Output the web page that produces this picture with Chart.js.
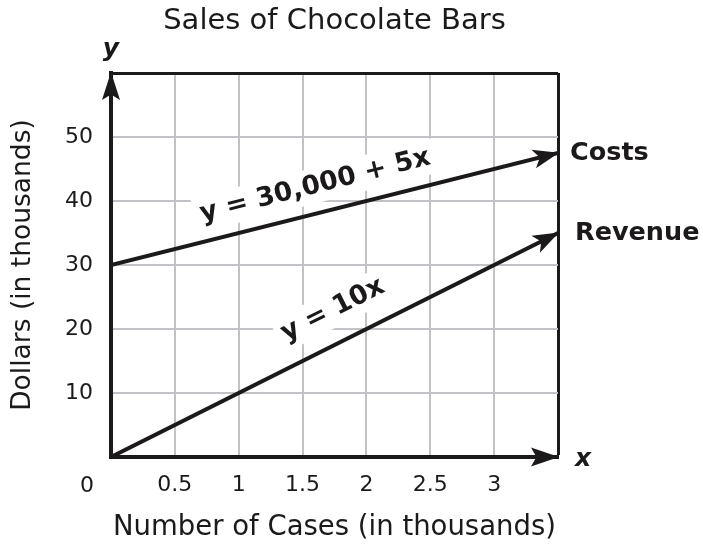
<!DOCTYPE html>
<html>
<head>
<meta charset="utf-8">
<script src="https://cdn.jsdelivr.net/npm/chart.js@4"></script>
<style>
  html, body { margin: 0; padding: 0; background: #fff; }
  canvas { display: block; }
</style>
</head>
<body>
<canvas id="myChart" width="703" height="546"></canvas>
<script>
// data (thousands)
const caseValues = [0, 3.5];
const costsValues = [30, 47.5];   // y = 30,000 + 5x
const revenueValues = [0, 35];    // y = 10x
const caseTicks = [0, 0.5, 1, 1.5, 2, 2.5, 3, 3.5];
const caseTickLabels = ['', '0.5', '1', '1.5', '2', '2.5', '3', ''];
const dollarTicks = [0, 10, 20, 30, 40, 50, 60];
const dollarTickLabels = ['', '10', '20', '30', '40', '50', ''];
const originLabel = '0';

const ink = '#1c191a';
const gridGray = '#c3c3c7';
const fam = 'DejaVu Sans';

function points(ys) {
    return caseValues.map(function (x, i) { return { x: x, y: ys[i] }; });
}

function arrowHead(ctx, x, y, angle, len, half, notch) {
    ctx.save();
    ctx.translate(x, y);
    ctx.rotate(angle);
    ctx.beginPath();
    ctx.moveTo(1, 0);
    ctx.lineTo(-len, -half);
    ctx.lineTo(-len * notch, 0);
    ctx.lineTo(-len, half);
    ctx.closePath();
    ctx.fillStyle = ink;
    ctx.fill();
    ctx.restore();
}

// rotated label sitting above a line, on a white box
function slopeLabel(chart, text, ys, atX, offset) {
    const ctx = chart.ctx;
    const sx = chart.scales.x, sy = chart.scales.y;
    const x0 = sx.getPixelForValue(caseValues[0]), y0 = sy.getPixelForValue(ys[0]);
    const x1 = sx.getPixelForValue(caseValues[1]), y1 = sy.getPixelForValue(ys[1]);
    const ang = Math.atan2(y1 - y0, x1 - x0);
    const t = (atX - caseValues[0]) / (caseValues[1] - caseValues[0]);
    const px = x0 + (x1 - x0) * t, py = y0 + (y1 - y0) * t;
    const cx = px + Math.sin(ang) * offset, cy = py - Math.cos(ang) * offset;
    ctx.save();
    ctx.translate(cx, cy);
    ctx.rotate(ang);
    ctx.font = 'bold 26.5px "' + fam + '"';
    const w = ctx.measureText(text).width;
    ctx.fillStyle = '#fff';
    ctx.fillRect(-w / 2 - 6, -18, w + 12, 35);
    ctx.fillStyle = ink;
    ctx.textAlign = 'center';
    ctx.textBaseline = 'middle';
    ctx.fillText(text, 0, 0);
    ctx.restore();
}

const decorations = {
    id: 'decorations',
    beforeDatasetsDraw: function (chart) {
        slopeLabel(chart, 'y = 30,000 + 5x', costsValues, 1.65, 27);
        slopeLabel(chart, 'y = 10x', revenueValues, 1.85, 32);
    },
    afterDatasetsDraw: function (chart) {
        const ctx = chart.ctx;
        const a = chart.chartArea;
        // arrows on the two lines
        chart.data.datasets.forEach(function (ds, i) {
            const pts = chart.getDatasetMeta(i).data;
            const p0 = pts[pts.length - 2], p1 = pts[pts.length - 1];
            arrowHead(ctx, p1.x, p1.y, Math.atan2(p1.y - p0.y, p1.x - p0.x), 25, 9.5, 0.75);
        });
        // axis arrows
        arrowHead(ctx, a.left, a.top, -Math.PI / 2, 27, 9, 0.8);
        arrowHead(ctx, a.right, a.bottom, 0, 27, 9.5, 0.8);
    },
    afterDraw: function (chart) {
        const ctx = chart.ctx;
        const a = chart.chartArea;
        const sy = chart.scales.y;
        ctx.save();
        ctx.fillStyle = ink;
        ctx.textBaseline = 'middle';
        ctx.textAlign = 'left';
        ctx.font = 'bold 25.5px "' + fam + '"';
        ctx.fillText('Costs', a.right + 12, sy.getPixelForValue(costsValues[1]));
        ctx.fillText('Revenue', a.right + 17, sy.getPixelForValue(revenueValues[1]));
        ctx.font = 'italic bold 25px "' + fam + '"';
        ctx.textAlign = 'center';
        ctx.fillText('y', a.left, a.top - 24);
        ctx.fillText('x', a.right + 25, a.bottom + 2);
        ctx.font = '22px "' + fam + '"';
        ctx.fillText(originLabel, a.left - 24, a.bottom + 29);
        ctx.restore();
    }
};

function gridColor(last) {
    return function (c) {
        if (c.tick.value === 0) return 'rgba(0,0,0,0)';
        return c.tick.value === last ? ink : gridGray;
    };
}
function gridWidth(last) {
    return function (c) { return c.tick.value === last ? 3 : 2; };
}

var ctx = document.getElementById('myChart').getContext('2d');
var chart = new Chart(ctx, {
    type: 'line',
    data: {
        datasets: [{
            label: 'Costs',
            data: points(costsValues),
            borderColor: ink,
            borderWidth: 4,
            pointRadius: 0,
            fill: false
        },
        {
            label: 'Revenue',
            data: points(revenueValues),
            borderColor: ink,
            borderWidth: 4,
            pointRadius: 0,
            fill: false
        }]
    },
    options: {
        responsive: false,
        animation: false,
        layout: { padding: { left: 0, right: 145, top: 0, bottom: 0 } },
        plugins: {
            legend: { display: false },
            tooltip: { enabled: false },
            title: {
                display: true,
                fullSize: false,
                text: 'Sales of Chocolate Bars',
                color: ink,
                font: { family: fam, size: 29, weight: 'normal' },
                padding: { top: 4, bottom: 34.2 }
            }
        },
        scales: {
            x: {
                type: 'linear',
                min: 0,
                max: 3.5,
                afterBuildTicks: function (s) { s.ticks = caseTicks.map(function (v) { return { value: v }; }); },
                afterFit: function (s) { s.height = 89; },
                ticks: {
                    callback: function (v, i) { return caseTickLabels[i]; },
                    color: ink,
                    font: { family: fam, size: 22 },
                    padding: 15,
                    maxRotation: 0,
                    autoSkip: false
                },
                grid: { color: gridColor(3.5), lineWidth: gridWidth(3.5), drawTicks: false },
                border: { color: ink, width: 4 },
                title: {
                    display: true,
                    text: 'Number of Cases (in thousands)',
                    color: ink,
                    font: { family: fam, size: 27.5 },
                    padding: { top: 0, bottom: 1.5 }
                }
            },
            y: {
                min: 0,
                max: 60,
                afterBuildTicks: function (s) { s.ticks = dollarTicks.map(function (v) { return { value: v }; }); },
                afterFit: function (s) { s.width = 111; },
                ticks: {
                    callback: function (v, i) { return dollarTickLabels[i]; },
                    color: ink,
                    font: { family: fam, size: 22 },
                    padding: 18
                },
                grid: { color: gridColor(60), lineWidth: gridWidth(60), drawTicks: false },
                border: { color: ink, width: 4 },
                title: {
                    display: true,
                    text: 'Dollars (in thousands)',
                    color: ink,
                    font: { family: fam, size: 26.5 },
                    padding: { top: 7, bottom: 0 }
                }
            }
        }
    },
    plugins: [decorations]
});
</script>
</body>
</html>
